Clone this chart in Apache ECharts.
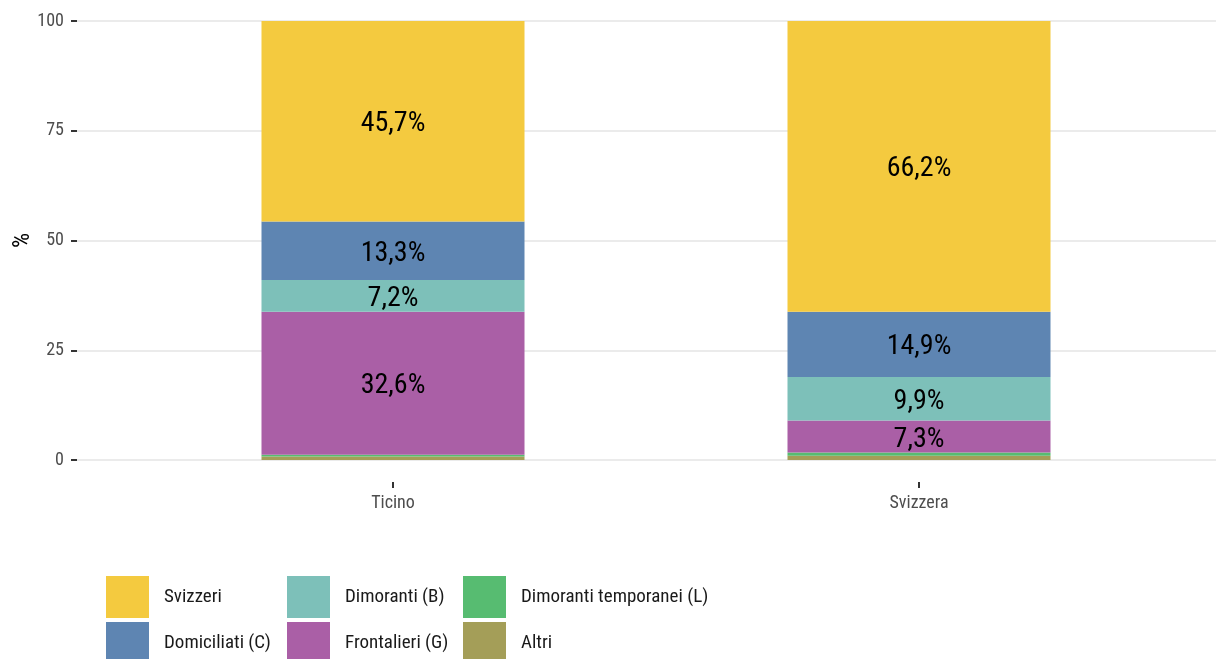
<!DOCTYPE html>
<html>
<head>
<meta charset="utf-8">
<script src="https://cdn.jsdelivr.net/npm/echarts@6/dist/echarts.min.js"></script>
<style>
  html, body { margin: 0; padding: 0; background: #fff; }
  #chart { width: 1216px; height: 659px; }
</style>
</head>
<body>
<div id="chart"></div>
<script>
// Chart Data
const categories = ["Ticino", "Svizzera"];
const seriesNames = [
  "Altri",
  "Dimoranti temporanei (L)",
  "Frontalieri (G)",
  "Dimoranti (B)",
  "Domiciliati (C)",
  "Svizzeri",
];
const altri = [0.8, 1.0];
const dimorantiL = [0.4, 0.7];
const frontalieri = [32.6, 7.3];
const dimorantiB = [7.2, 9.9];
const domiciliati = [13.3, 14.9];
const svizzeri = [45.7, 66.2];

const colors = ["#a49e58", "#57bc71", "#aa5fa6", "#7dc0b9", "#5e85b2", "#f4ca3f"];
const showLabel = [false, false, true, true, true, true];
const values = [altri, dimorantiL, frontalieri, dimorantiB, domiciliati, svizzeri];

// pick a condensed font if one is around
const ctx = document.createElement("canvas").getContext("2d");
function widthOf(f) {
  ctx.font = "10px serif";
  ctx.font = f;
  if (ctx.font === "10px serif") return -1;
  return ctx.measureText("Dimoranti temporanei 0123").width;
}
let font = "Roboto, sans-serif";
let weight = "normal";
const mono = widthOf("20px monospace");
if (widthOf("20px 'Roboto Condensed', monospace") !== mono) {
  font = "'Roboto Condensed'";
} else if (widthOf("20px 'Liberation Sans Narrow', monospace") !== mono) {
  font = "'Liberation Sans Narrow'";
} else {
  const c = widthOf("normal condensed 20px 'DejaVu Sans'");
  if (c > 0 && c < widthOf("20px 'DejaVu Sans'")) {
    font = "'DejaVu Sans'";
    weight = "condensed";
  }
}

// Chart Functionalities
const chart = echarts.init(document.getElementById("chart"), null, { renderer: "canvas" });

const series = seriesNames.map(function (name, i) {
  return {
    name: name,
    type: "bar",
    stack: "tot",
    barWidth: 263,
    itemStyle: { color: colors[i], borderWidth: 0 },
    label: {
      show: showLabel[i],
      position: "inside",
      offset: [0, 3],
      fontFamily: font,
      fontWeight: weight,
      fontSize: 28,
      color: "#000",
      formatter: function (p) {
        return p.value.toFixed(1).replace(".", ",") + "%";
      },
    },
    emphasis: { disabled: true },
    data: values[i],
  };
});

function legendCol(names, left) {
  return {
    orient: "vertical",
    left: left,
    top: 576,
    height: 100,
    padding: 0,
    itemWidth: 43,
    itemHeight: 42,
    itemGap: 4,
    icon: "rect",
    selectedMode: false,
    data: names,
    textStyle: { fontFamily: font, fontWeight: weight, fontSize: 19, color: "#1a1a1a", padding: [5, 0, 0, 10] },
  };
}

const option = {
  animation: false,
  backgroundColor: "#fff",
  grid: [
    // bars: y range -5..105 so the x axis sits below zero like the panel edge
    { left: 130, top: -1, width: 1052, height: 483, outerBoundsMode: "none" },
    // gridlines and y labels, full width
    { left: 77, top: 21, width: 1157, height: 439, outerBoundsMode: "none" },
  ],
  legend: [
    legendCol(["Svizzeri", "Domiciliati (C)"], 106),
    legendCol(["Dimoranti (B)", "Frontalieri (G)"], 287),
    legendCol(["Dimoranti temporanei (L)", "Altri"], 463),
  ],
  xAxis: [
    {
      type: "category",
      gridIndex: 0,
      data: categories,
      axisLine: { show: false, onZero: false },
      splitLine: { show: false },
      axisTick: {
        show: true,
        alignWithLabel: true,
        length: 6,
        lineStyle: { color: "#333", width: 2 },
      },
      axisLabel: {
        margin: 12,
        fontFamily: font,
        fontWeight: weight,
        fontSize: 18,
        color: "#4d4d4d",
      },
    },
    { type: "value", gridIndex: 1, show: false },
  ],
  yAxis: [
    { type: "value", gridIndex: 0, min: -5, max: 105, show: false, splitLine: { show: false } },
    {
      type: "value",
      gridIndex: 1,
      min: 0,
      max: 100,
      interval: 25,
      name: "%",
      nameLocation: "middle",
      nameGap: 42,
      nameMoveOverlap: false,
      nameTextStyle: { fontFamily: font, fontWeight: weight, fontSize: 24, color: "#000" },
      axisLine: { show: false },
      axisTick: { show: true, length: 6, lineStyle: { color: "#333", width: 2 } },
      axisLabel: { margin: 13, fontFamily: font, fontWeight: weight, fontSize: 18, color: "#4d4d4d" },
      splitLine: { show: true, lineStyle: { color: "#ebebeb", width: 2 } },
    },
  ],
  series: series,
};

chart.setOption(option);
</script>
</body>
</html>
